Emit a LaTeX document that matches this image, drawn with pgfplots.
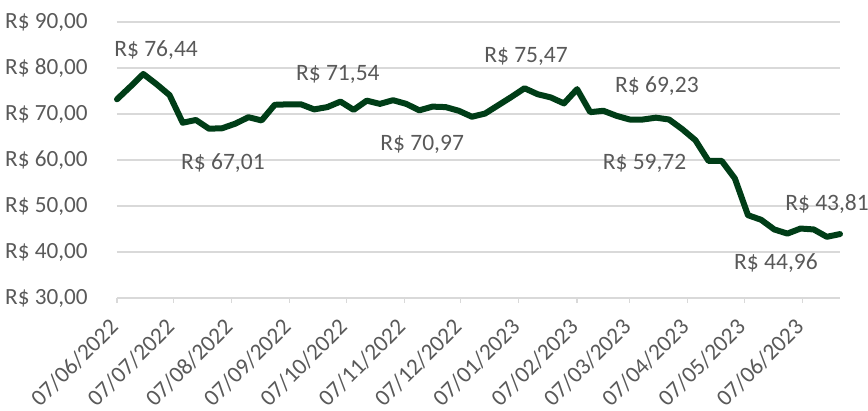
\documentclass[border=0pt]{standalone}
\usepackage{pgfplots}
\pgfplotsset{compat=1.18}
\usepackage{fontspec}
\setmainfont{Carlito}
\definecolor{linegreen}{RGB}{0,61,23}
\definecolor{txtgray}{RGB}{89,89,89}
\definecolor{gridgray}{RGB}{217,217,217}
\begin{document}
\begin{tikzpicture}
\begin{axis}[name=ax,
  scale only axis, width=361.5pt, height=138pt,
  xmin=0, xmax=385, ymin=30, ymax=90,
  axis lines*=left,
  x axis line style={draw=gridgray, line width=0.6pt},
  y axis line style={draw=none},
  ymajorgrids, major grid style={draw=gridgray, line width=0.6pt},
  ytick={30,40,50,60,70,80,90},
  yticklabels={{R\$ 30,00},{R\$ 40,00},{R\$ 50,00},{R\$ 60,00},{R\$ 70,00},{R\$ 80,00},{R\$ 90,00}},
  xtick={0,30,61,92,122,153,183,214,245,273,304,334,365},
  xticklabels={07/06/2022,07/07/2022,07/08/2022,07/09/2022,07/10/2022,07/11/2022,07/12/2022,07/01/2023,07/02/2023,07/03/2023,07/04/2023,07/05/2023,07/06/2023},
  tick align=outside, major tick length=2.5pt,
  x tick style={draw=gridgray, line width=0.6pt},
  y tick style={draw=none},
  every tick label/.append style={font=\fontsize{11.6}{14}\selectfont, text=txtgray},
  yticklabel style={anchor=east, inner sep=0pt, xshift=-12pt},
  xticklabel style={xshift=-4.5pt, yshift=-6.8pt, rotate=45, anchor=north east, inner sep=0pt},
  clip=false,
]
\addplot[color=linegreen, line width=3pt, line join=round, line cap=round] coordinates {
(0,73.2)(7,75.9)(14,78.7)(21,76.5)(28,74.1)(35,68.1)(42,68.7)(49,66.8)(56,66.9)(63,67.9)
(70,69.3)(77,68.6)(84,72.0)(91,72.1)(98,72.1)(105,71.0)(112,71.5)(119,72.7)(126,70.9)(133,72.9)
(140,72.2)(147,73.0)(154,72.2)(161,70.8)(168,71.6)(175,71.5)(182,70.7)(189,69.4)(196,70.1)(203,71.9)
(210,73.7)(217,75.6)(224,74.3)(231,73.6)(238,72.3)(245,75.4)(252,70.4)(259,70.7)(266,69.6)(273,68.8)
(280,68.8)(287,69.2)(294,68.8)(301,66.7)(308,64.3)(315,59.8)(322,59.8)(329,56.0)(336,48.0)(343,47.0)
(350,44.9)(357,44.0)(364,45.1)(371,44.9)(378,43.3)(385,43.9)
};
\begin{scope}[every node/.style={font=\fontsize{11.75}{14}\selectfont, text=txtgray, inner sep=0pt}]
\node at (axis cs:20.8,83.9) {R\$ 76,44};
\node at (axis cs:56.4,59.4) {R\$ 67,01};
\node at (axis cs:117.6,78.7) {R\$ 71,54};
\node at (axis cs:162.5,63.5) {R\$ 70,97};
\node at (axis cs:217.8,82.4) {R\$ 75,47};
\node at (axis cs:287.5,76.1) {R\$ 69,23};
\node at (axis cs:280.9,59.3) {R\$ 59,72};
\node at (axis cs:378.1,50.4) {R\$ 43,81};
\node at (axis cs:350.9,37.6) {R\$ 44,96};
\end{scope}
\end{axis}
\pgfresetboundingbox
\path[use as bounding box] ([shift={(-58.5pt,-56.5pt)}]ax.south west) rectangle ([shift={(14pt,11pt)}]ax.north east);
\end{tikzpicture}
\end{document}
